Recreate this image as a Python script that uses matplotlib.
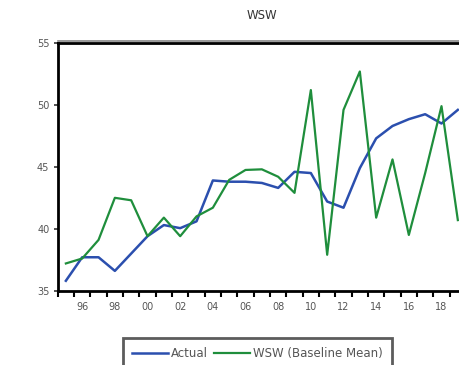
import matplotlib.pyplot as plt
import numpy as np

years = np.arange(1995, 2020)
actual = [35.8, 37.7, 37.7, 36.6, 38.0, 39.4, 40.3, 40.05, 40.6, 43.9,
          43.8, 43.8, 43.7, 43.3, 44.6, 44.5, 42.2, 41.7, 44.9, 47.3,
          48.3, 48.85, 49.25, 48.5, 49.6]
wsw = [37.2, 37.6, 39.1, 42.5, 42.3, 39.4, 40.9, 39.4, 41.0, 41.7,
       43.95, 44.75, 44.8, 44.2, 42.9, 51.2, 37.9, 49.6, 52.7, 40.9,
       45.6, 39.5, 44.5, 49.9, 40.7]
yticks = [35, 40, 45, 50, 55]
xlabel_years = list(range(1996, 2019, 2))

fig = plt.figure(figsize=(4.6, 3.65), dpi=100)
ax = fig.add_axes([57.7 / 460, 1 - 290.7 / 365, (466 - 57.7) / 460, (290.7 - 43) / 365])

x = years + 0.5
l1, = ax.plot(x, actual, color='#2b4fae', lw=1.8, label='Actual')
l2, = ax.plot(x, wsw, color='#1f8e3c', lw=1.6, label='WSW (Baseline Mean)')

ax.set_xlim(1995, 2020)
ax.set_ylim(35, 55)
ax.set_yticks(yticks)
ax.set_yticklabels([str(v) for v in yticks], color='#555555', fontsize=7)

# year boundary ticks, labels centred on every second year
ax.set_xticks(np.arange(1995, 2021))
ax.set_xticklabels([])
ax.set_xticks([y + 0.5 for y in xlabel_years], minor=True)
ax.set_xticklabels(['%02d' % (y % 100) for y in xlabel_years], minor=True,
                   color='#555555', fontsize=7)
ax.tick_params(axis='x', which='major', length=4, width=1.5, color='black', direction='out')
ax.tick_params(axis='x', which='minor', length=0, pad=8)
ax.tick_params(axis='y', length=3, width=1.2, color='#333333', pad=3)

for s in ['left', 'bottom', 'top', 'right']:
    ax.spines[s].set_linewidth(2)
    ax.spines[s].set_color('black')
# light grey shadow along the top edge
ax.plot([0, 1], [1.008, 1.008], color='#888888', lw=1.2, clip_on=False,
        transform=ax.transAxes)

ax.set_title('WSW', fontsize=8.5, color='#333333', pad=17)

leg = fig.legend(handles=[l1, l2], loc='upper left', bbox_to_anchor=(123 / 460, 1 - 338 / 365),
                 ncol=2, fontsize=8.5, frameon=True, fancybox=False, borderaxespad=0,
                 borderpad=0.8, handlelength=3.0, columnspacing=0.5, handletextpad=0.3,
                 labelcolor='#555555')
leg.get_frame().set_edgecolor('#333333')
leg.get_frame().set_linewidth(2)

fig.savefig('out.png', dpi=100)
